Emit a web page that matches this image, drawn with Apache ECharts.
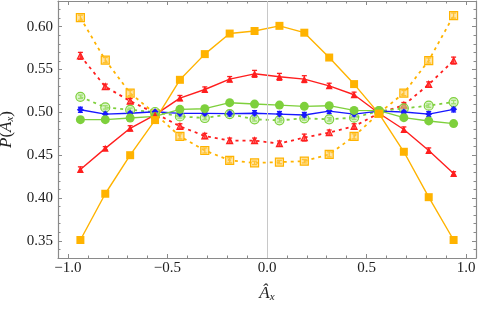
<!DOCTYPE html>
<html><head><meta charset="utf-8">
<script src="https://cdn.jsdelivr.net/npm/echarts@6/dist/echarts.min.js"></script>
<style>html,body{margin:0;padding:0;background:#fff}#c{width:478px;height:309px}</style>
</head><body><div id="c"></div>
<script>
const xs = [-0.9375,-0.8125,-0.6875,-0.5625,-0.4375,-0.3125,-0.1875,-0.0625,0.0625,0.1875,0.3125,0.4375,0.5625,0.6875,0.8125,0.9375];
const orangeSolid  = [0.351,0.405,0.450,0.491,0.538,0.568,0.592,0.595,0.601,0.593,0.564,0.533,0.4985,0.454,0.401,0.351];
const orangeDashed = [0.6105,0.561,0.5225,0.4985,0.472,0.4555,0.444,0.441,0.442,0.443,0.451,0.472,0.499,0.5225,0.5605,0.613];
const redSolid     = [0.4334,0.458,0.4814,0.497,0.5167,0.5267,0.5388,0.545,0.5415,0.5388,0.531,0.5206,0.499,0.480,0.4555,0.4287];
const redDashed    = [0.566,0.530,0.5132,0.499,0.4837,0.4725,0.467,0.467,0.4636,0.4706,0.4764,0.4837,0.499,0.5085,0.5326,0.5605];
const greenSolid   = [0.4915,0.4915,0.4934,0.4953,0.5035,0.5043,0.5113,0.5097,0.5085,0.507,0.5078,0.5023,0.502,0.4938,0.490,0.4869];
const greenDashed  = [0.5182,0.5058,0.503,0.5004,0.4953,0.4934,0.498,0.4919,0.4907,0.493,0.4919,0.4938,0.5015,0.5047,0.5078,0.512];
const blueSolid    = [0.503,0.498,0.499,0.5008,0.4988,0.4988,0.4985,0.499,0.498,0.4969,0.5015,0.498,0.5015,0.5004,0.498,0.5035];

const orangeSolidErr  = [0.002,0.002,0.002,0.002,0.002,0.002,0.002,0.002,0.002,0.002,0.002,0.002,0.002,0.002,0.002,0.002];
const orangeDashedErr = [0.003,0.003,0.003,0.002,0.003,0.003,0.003,0.002,0.002,0.002,0.003,0.003,0.002,0.003,0.003,0.003];
const redSolidErr     = [0.003,0.002,0.003,0.002,0.003,0.003,0.003,0.004,0.004,0.004,0.003,0.003,0.002,0.003,0.003,0.002];
const redDashedErr    = [0.004,0.003,0.003,0.002,0.003,0.003,0.003,0.003,0.003,0.004,0.003,0.003,0.002,0.003,0.003,0.004];
const greenSolidErr   = [0.002,0.002,0.002,0.002,0.002,0.002,0.002,0.002,0.002,0.002,0.002,0.002,0.002,0.002,0.002,0.002];
const greenDashedErr  = [0.002,0.002,0.002,0.002,0.002,0.002,0.002,0.002,0.002,0.002,0.002,0.002,0.002,0.002,0.002,0.002];
const blueSolidErr    = [0.003,0.003,0.002,0.002,0.003,0.002,0.003,0.003,0.003,0.003,0.003,0.003,0.002,0.002,0.003,0.003];

const xMajor = [-1.0,-0.5,0.0,0.5,1.0];
const xMinor = [-0.9,-0.8,-0.7,-0.6,-0.4,-0.3,-0.2,-0.1,0.1,0.2,0.3,0.4,0.6,0.7,0.8,0.9];
const yMajor = [0.35,0.40,0.45,0.50,0.55,0.60];
const yMinor = [0.34,0.36,0.37,0.38,0.39,0.41,0.42,0.43,0.44,0.46,0.47,0.48,0.49,0.51,0.52,0.53,0.54,0.56,0.57,0.58,0.59,0.61,0.62];

const ORANGE='#FFB300', RED='#FF1E1E', GREEN='#7ED03C', BLUE='#1717FF';
const FONT='Liberation Serif';
const AX='#8a8a8a';

function pts(ys){ return xs.map((x,i)=>[x,ys[i]]); }
function errPts(ys,es){ return xs.map((x,i)=>[x,ys[i],es[i]]); }

function errSeries(ys,es,color){
  return {
    type:'custom', xAxisIndex:0, yAxisIndex:0, silent:true, z:3,
    data: errPts(ys,es), encode:{x:0,y:1},
    renderItem(params, api){
      const x=api.value(0), y=api.value(1), e=api.value(2);
      const a=api.coord([x,y-e]), b=api.coord([x,y+e]);
      const c=2.5, st={stroke:color,lineWidth:1.3};
      return {type:'group',children:[
        {type:'line',shape:{x1:a[0],y1:a[1],x2:b[0],y2:b[1]},style:st},
        {type:'line',shape:{x1:a[0]-c,y1:a[1],x2:a[0]+c,y2:a[1]},style:st},
        {type:'line',shape:{x1:b[0]-c,y1:b[1],x2:b[0]+c,y2:b[1]},style:st}
      ]};
    }
  };
}
function lineSeries(ys,color,dashed,symbol,size,hollowFill){
  return {
    type:'line', xAxisIndex:0, yAxisIndex:0, data:pts(ys), z:4,
    symbol, symbolSize:size, showSymbol:true, animation:false,
    lineStyle:{color, width: dashed?1.8:1.4, type: dashed?[3,4]:'solid'},
    itemStyle: hollowFill ? {color:hollowFill, borderColor:color, borderWidth:1.2} : {color, borderWidth:0}
  };
}

function axisCommon(extra, lineShow){
  return Object.assign({
    type:'value', splitLine:{show:false},
    axisLine:{show:lineShow,onZero:false,lineStyle:{color:AX,width:1.2}},
    axisLabel:{show:false}
  }, extra);
}
function ticks(vals,len){ return {show:true,inside:true,length:len,customValues:vals,lineStyle:{color:AX,width:1}}; }
const xr={min:-1.05,max:1.05}, yr={min:0.33,max:0.63};
const nameStyle={fontFamily:FONT,fontSize:17,color:'#222',
  rich:{i:{fontFamily:FONT,fontSize:17,fontStyle:'italic',color:'#222'},
        s:{fontFamily:FONT,fontSize:11,fontStyle:'italic',color:'#222',padding:[8,0,0,0]}}};
const xAxes=[
  axisCommon(Object.assign({position:'bottom', name:'{i|Â}{s|x}', nameLocation:'middle', nameGap:26,
    nameTextStyle:nameStyle, axisTick:ticks(xMajor,4),
    axisLabel:{show:true,customValues:xMajor,margin:3,fontFamily:FONT,fontSize:15,color:'#222',
      formatter:v=>(v<0?'\u2212':'')+Math.abs(v).toFixed(1)}},xr), true),
  axisCommon(Object.assign({position:'bottom', axisTick:ticks(xMinor,2.5)},xr), false),
  axisCommon(Object.assign({position:'top', axisTick:ticks(xMajor,4)},xr), true),
  axisCommon(Object.assign({position:'top', axisTick:ticks(xMinor,2.5)},xr), false)
];
const yAxes=[
  axisCommon(Object.assign({position:'left', name:'{i|P}({i|Â}{s|x})', nameLocation:'middle', nameGap:32, nameRotate:90,
    nameTextStyle:nameStyle, axisTick:ticks(yMajor,4),
    axisLabel:{show:true,customValues:yMajor,margin:5,fontFamily:FONT,fontSize:15,color:'#222',formatter:v=>v.toFixed(2)}},yr), true),
  axisCommon(Object.assign({position:'left', axisTick:ticks(yMinor,2.5)},yr), false),
  axisCommon(Object.assign({position:'right', axisTick:ticks(yMajor,4)},yr), true),
  axisCommon(Object.assign({position:'right', axisTick:ticks(yMinor,2.5)},yr), false)
];

const series=[
  {type:'line', data:[], xAxisIndex:0, yAxisIndex:0, z:1,
   markLine:{silent:true, symbol:'none', label:{show:false}, animation:false,
     lineStyle:{color:'#c8c8c8', width:1, type:'solid'}, data:[{xAxis:0}]}},
  errSeries(orangeDashed,orangeDashedErr,ORANGE),
  lineSeries(orangeDashed,ORANGE,true,'rect',8,'rgba(255,205,90,0.55)'),
  errSeries(redDashed,redDashedErr,RED),
  lineSeries(redDashed,RED,true,'triangle',6,'rgba(255,60,60,0.6)'),
  errSeries(greenDashed,greenDashedErr,GREEN),
  lineSeries(greenDashed,GREEN,true,'circle',9,'rgba(190,235,160,0.5)'),
  errSeries(blueSolid,blueSolidErr,BLUE),
  lineSeries(blueSolid,BLUE,false,'diamond',7,null),
  errSeries(greenSolid,greenSolidErr,GREEN),
  lineSeries(greenSolid,GREEN,false,'circle',9,null),
  errSeries(redSolid,redSolidErr,RED),
  lineSeries(redSolid,RED,false,'triangle',7,null),
  errSeries(orangeSolid,orangeSolidErr,ORANGE),
  lineSeries(orangeSolid,ORANGE,false,'rect',8,null)
];

const chart=echarts.init(document.getElementById('c'),null,{renderer:'canvas'});
chart.setOption({
  animation:false, backgroundColor:'#fff',
  grid:{left:58,right:2,top:1,bottom:51,containLabel:false,outerBoundsMode:'none'},
  xAxis:xAxes, yAxis:yAxes, series
});
</script></body></html>
